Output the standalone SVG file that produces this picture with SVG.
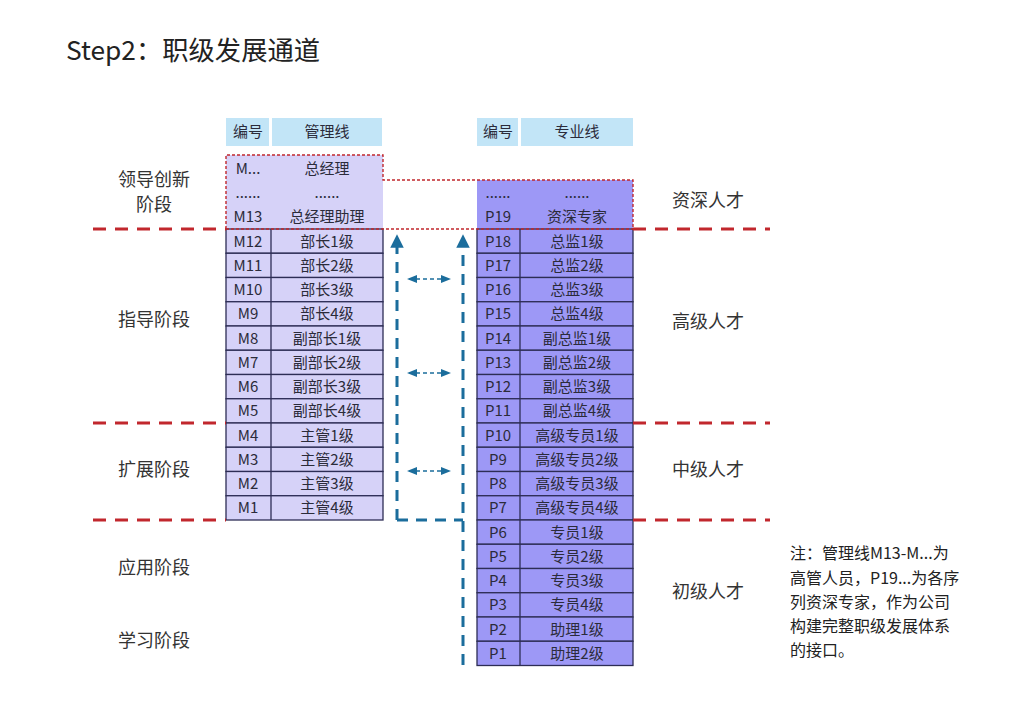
<svg xmlns="http://www.w3.org/2000/svg" width="1024" height="706" viewBox="0 0 1024 706">
<style>
  text { font-family: "Noto Sans CJK SC", "Liberation Sans", sans-serif; fill: #222; }
  .title { font-size: 26.3px; }
  .lbl { font-size: 18px; text-anchor: middle; fill: #333; }
  .cell { font-size: 15px; text-anchor: middle; fill: #2b2b3a; }
  .note { font-size: 16px; fill: #222; }
  .hdr { fill: #c2e5f7; }
  .mrow { fill: #d6d2f8; stroke: #2d2d55; stroke-width: 1.3; }
  .prow { fill: #9d98f6; stroke: #2d2d55; stroke-width: 1.3; }
  .div { stroke: #2d2d55; stroke-width: 1.3; }
  .reddash { stroke: #c1272d; stroke-width: 3; stroke-dasharray: 13 9; fill: none; }
  .reddot { stroke: #c1272d; stroke-width: 1.4; stroke-dasharray: 3 2; fill: none; }
  .bluedash { stroke: #1b6d9c; stroke-width: 3; stroke-dasharray: 11 8; fill: none; }
  .bluethin { stroke: #1b6d9c; stroke-width: 1.5; stroke-dasharray: 4 3; fill: none; }
</style>
<defs>
  <marker id="bigArrow" viewBox="0 0 10 10" refX="5" refY="5" markerWidth="4.5" markerHeight="4.5" orient="auto">
    <path d="M0,0 L10,5 L0,10 z" fill="#1b6d9c"/>
  </marker>
  <marker id="smallArrow" viewBox="0 0 10 10" refX="8" refY="5" markerWidth="7" markerHeight="7" orient="auto-start-reverse">
    <path d="M0,1 L10,5 L0,9 z" fill="#1b6d9c"/>
  </marker>
</defs>
<rect width="1024" height="706" fill="#ffffff"/>
<text class="title" x="66" y="60">Step2：职级发展通道</text>

<!-- stage labels -->
<g id="stages">
  <text class="lbl" x="154" y="186">领导创新</text>
  <text class="lbl" x="154" y="211">阶段</text>
  <text class="lbl" x="154" y="326">指导阶段</text>
  <text class="lbl" x="154" y="476">扩展阶段</text>
  <text class="lbl" x="154" y="574">应用阶段</text>
  <text class="lbl" x="154" y="647">学习阶段</text>
</g>
<g id="talent">
  <text class="lbl" x="708" y="207">资深人才</text>
  <text class="lbl" x="708" y="328">高级人才</text>
  <text class="lbl" x="708" y="476">中级人才</text>
  <text class="lbl" x="708" y="598">初级人才</text>
</g>

<!-- headers -->
<g id="hdr-m">
  <rect class="hdr" x="226" y="118" width="43" height="28"/>
  <rect class="hdr" x="272" y="118" width="110" height="28"/>
  <text class="cell" x="248" y="137">编号</text>
  <text class="cell" x="327" y="137">管理线</text>
</g>
<g id="hdr-p">
  <rect class="hdr" x="477" y="118" width="41" height="28"/>
  <rect class="hdr" x="521" y="118" width="112" height="28"/>
  <text class="cell" x="498" y="137">编号</text>
  <text class="cell" x="577" y="137">专业线</text>
</g>

<!-- top blocks -->
<g id="m-top">
  <rect x="226" y="155" width="157" height="74" fill="#d6d2f8"/>
  <text class="cell" x="248" y="174">M...</text>
  <text class="cell" x="327" y="174">总经理</text>
  <text class="cell" x="248" y="198">......</text>
  <text class="cell" x="327" y="198">......</text>
  <text class="cell" x="248" y="222">M13</text>
  <text class="cell" x="327" y="222">总经理助理</text>
</g>
<g id="p-top">
  <rect x="477" y="180" width="156" height="49" fill="#9d98f6"/>
  <text class="cell" x="498" y="198">......</text>
  <text class="cell" x="577" y="198">......</text>
  <text class="cell" x="498" y="222">P19</text>
  <text class="cell" x="577" y="222">资深专家</text>
</g>

<!-- management rows -->
<g id="m-rows">
  <g id="M12"><rect class="mrow" x="226" y="229" width="157" height="24.25"/><text class="cell" x="248" y="246.5">M12</text><text class="cell" x="327" y="246.5">部长1级</text></g>
  <g id="M11"><rect class="mrow" x="226" y="253.25" width="157" height="24.25"/><text class="cell" x="248" y="270.7">M11</text><text class="cell" x="327" y="270.7">部长2级</text></g>
  <g id="M10"><rect class="mrow" x="226" y="277.5" width="157" height="24.25"/><text class="cell" x="248" y="295">M10</text><text class="cell" x="327" y="295">部长3级</text></g>
  <g id="M9"><rect class="mrow" x="226" y="301.75" width="157" height="24.25"/><text class="cell" x="248" y="319.2">M9</text><text class="cell" x="327" y="319.2">部长4级</text></g>
  <g id="M8"><rect class="mrow" x="226" y="326" width="157" height="24.25"/><text class="cell" x="248" y="343.5">M8</text><text class="cell" x="327" y="343.5">副部长1级</text></g>
  <g id="M7"><rect class="mrow" x="226" y="350.25" width="157" height="24.25"/><text class="cell" x="248" y="367.7">M7</text><text class="cell" x="327" y="367.7">副部长2级</text></g>
  <g id="M6"><rect class="mrow" x="226" y="374.5" width="157" height="24.25"/><text class="cell" x="248" y="392">M6</text><text class="cell" x="327" y="392">副部长3级</text></g>
  <g id="M5"><rect class="mrow" x="226" y="398.75" width="157" height="24.25"/><text class="cell" x="248" y="416.2">M5</text><text class="cell" x="327" y="416.2">副部长4级</text></g>
  <g id="M4"><rect class="mrow" x="226" y="423" width="157" height="24.25"/><text class="cell" x="248" y="440.5">M4</text><text class="cell" x="327" y="440.5">主管1级</text></g>
  <g id="M3"><rect class="mrow" x="226" y="447.25" width="157" height="24.25"/><text class="cell" x="248" y="464.7">M3</text><text class="cell" x="327" y="464.7">主管2级</text></g>
  <g id="M2"><rect class="mrow" x="226" y="471.5" width="157" height="24.25"/><text class="cell" x="248" y="489">M2</text><text class="cell" x="327" y="489">主管3级</text></g>
  <g id="M1"><rect class="mrow" x="226" y="495.75" width="157" height="24.25"/><text class="cell" x="248" y="513.2">M1</text><text class="cell" x="327" y="513.2">主管4级</text></g>
  <line class="div" x1="271" y1="229" x2="271" y2="520"/>
</g>

<!-- professional rows -->
<g id="p-rows">
  <g id="P18"><rect class="prow" x="477" y="229" width="156" height="24.25"/><text class="cell" x="498" y="246.5">P18</text><text class="cell" x="577" y="246.5">总监1级</text></g>
  <g id="P17"><rect class="prow" x="477" y="253.25" width="156" height="24.25"/><text class="cell" x="498" y="270.7">P17</text><text class="cell" x="577" y="270.7">总监2级</text></g>
  <g id="P16"><rect class="prow" x="477" y="277.5" width="156" height="24.25"/><text class="cell" x="498" y="295">P16</text><text class="cell" x="577" y="295">总监3级</text></g>
  <g id="P15"><rect class="prow" x="477" y="301.75" width="156" height="24.25"/><text class="cell" x="498" y="319.2">P15</text><text class="cell" x="577" y="319.2">总监4级</text></g>
  <g id="P14"><rect class="prow" x="477" y="326" width="156" height="24.25"/><text class="cell" x="498" y="343.5">P14</text><text class="cell" x="577" y="343.5">副总监1级</text></g>
  <g id="P13"><rect class="prow" x="477" y="350.25" width="156" height="24.25"/><text class="cell" x="498" y="367.7">P13</text><text class="cell" x="577" y="367.7">副总监2级</text></g>
  <g id="P12"><rect class="prow" x="477" y="374.5" width="156" height="24.25"/><text class="cell" x="498" y="392">P12</text><text class="cell" x="577" y="392">副总监3级</text></g>
  <g id="P11"><rect class="prow" x="477" y="398.75" width="156" height="24.25"/><text class="cell" x="498" y="416.2">P11</text><text class="cell" x="577" y="416.2">副总监4级</text></g>
  <g id="P10"><rect class="prow" x="477" y="423" width="156" height="24.25"/><text class="cell" x="498" y="440.5">P10</text><text class="cell" x="577" y="440.5">高级专员1级</text></g>
  <g id="P9"><rect class="prow" x="477" y="447.25" width="156" height="24.25"/><text class="cell" x="498" y="464.7">P9</text><text class="cell" x="577" y="464.7">高级专员2级</text></g>
  <g id="P8"><rect class="prow" x="477" y="471.5" width="156" height="24.25"/><text class="cell" x="498" y="489">P8</text><text class="cell" x="577" y="489">高级专员3级</text></g>
  <g id="P7"><rect class="prow" x="477" y="495.75" width="156" height="24.25"/><text class="cell" x="498" y="513.2">P7</text><text class="cell" x="577" y="513.2">高级专员4级</text></g>
  <g id="P6"><rect class="prow" x="477" y="520" width="156" height="24.25"/><text class="cell" x="498" y="537.5">P6</text><text class="cell" x="577" y="537.5">专员1级</text></g>
  <g id="P5"><rect class="prow" x="477" y="544.25" width="156" height="24.25"/><text class="cell" x="498" y="561.7">P5</text><text class="cell" x="577" y="561.7">专员2级</text></g>
  <g id="P4"><rect class="prow" x="477" y="568.5" width="156" height="24.25"/><text class="cell" x="498" y="586">P4</text><text class="cell" x="577" y="586">专员3级</text></g>
  <g id="P3"><rect class="prow" x="477" y="592.75" width="156" height="24.25"/><text class="cell" x="498" y="610.2">P3</text><text class="cell" x="577" y="610.2">专员4级</text></g>
  <g id="P2"><rect class="prow" x="477" y="617" width="156" height="24.25"/><text class="cell" x="498" y="634.5">P2</text><text class="cell" x="577" y="634.5">助理1级</text></g>
  <g id="P1"><rect class="prow" x="477" y="641.25" width="156" height="24.25"/><text class="cell" x="498" y="658.7">P1</text><text class="cell" x="577" y="658.7">助理2级</text></g>
  <line class="div" x1="520" y1="229" x2="520" y2="665.5"/>
</g>

<!-- connectors / guides -->
<g id="connectors">
  <path class="reddot" d="M226,229 V155 H383 V180 H633 V229 M226,229 H633"/>
  <line class="reddash" x1="93" y1="229" x2="226" y2="229"/>
  <line class="reddash" x1="633" y1="229" x2="770" y2="229"/>
  <line class="reddash" x1="93" y1="423" x2="226" y2="423"/>
  <line class="reddash" x1="633" y1="423" x2="770" y2="423"/>
  <line class="reddash" x1="93" y1="520" x2="226" y2="520"/>
  <line class="reddash" x1="633" y1="520" x2="770" y2="520"/>

  <path class="bluedash" d="M397,520 V241" marker-end="url(#bigArrow)"/>
  <path class="bluedash" d="M397,520 H463"/>
  <path class="bluedash" d="M463,665 V241" marker-end="url(#bigArrow)"/>

  <line class="bluethin" x1="409" y1="279" x2="449" y2="279" marker-start="url(#smallArrow)" marker-end="url(#smallArrow)"/>
  <line class="bluethin" x1="409" y1="373" x2="449" y2="373" marker-start="url(#smallArrow)" marker-end="url(#smallArrow)"/>
  <line class="bluethin" x1="409" y1="471" x2="449" y2="471" marker-start="url(#smallArrow)" marker-end="url(#smallArrow)"/>
</g>

<!-- note -->
<g id="note">
  <text class="note" x="790" y="559">注：管理线M13-M...为</text>
  <text class="note" x="790" y="584">高管人员，P19...为各序</text>
  <text class="note" x="790" y="608">列资深专家，作为公司</text>
  <text class="note" x="790" y="632">构建完整职级发展体系</text>
  <text class="note" x="790" y="656">的接口。</text>
</g>
</svg>
